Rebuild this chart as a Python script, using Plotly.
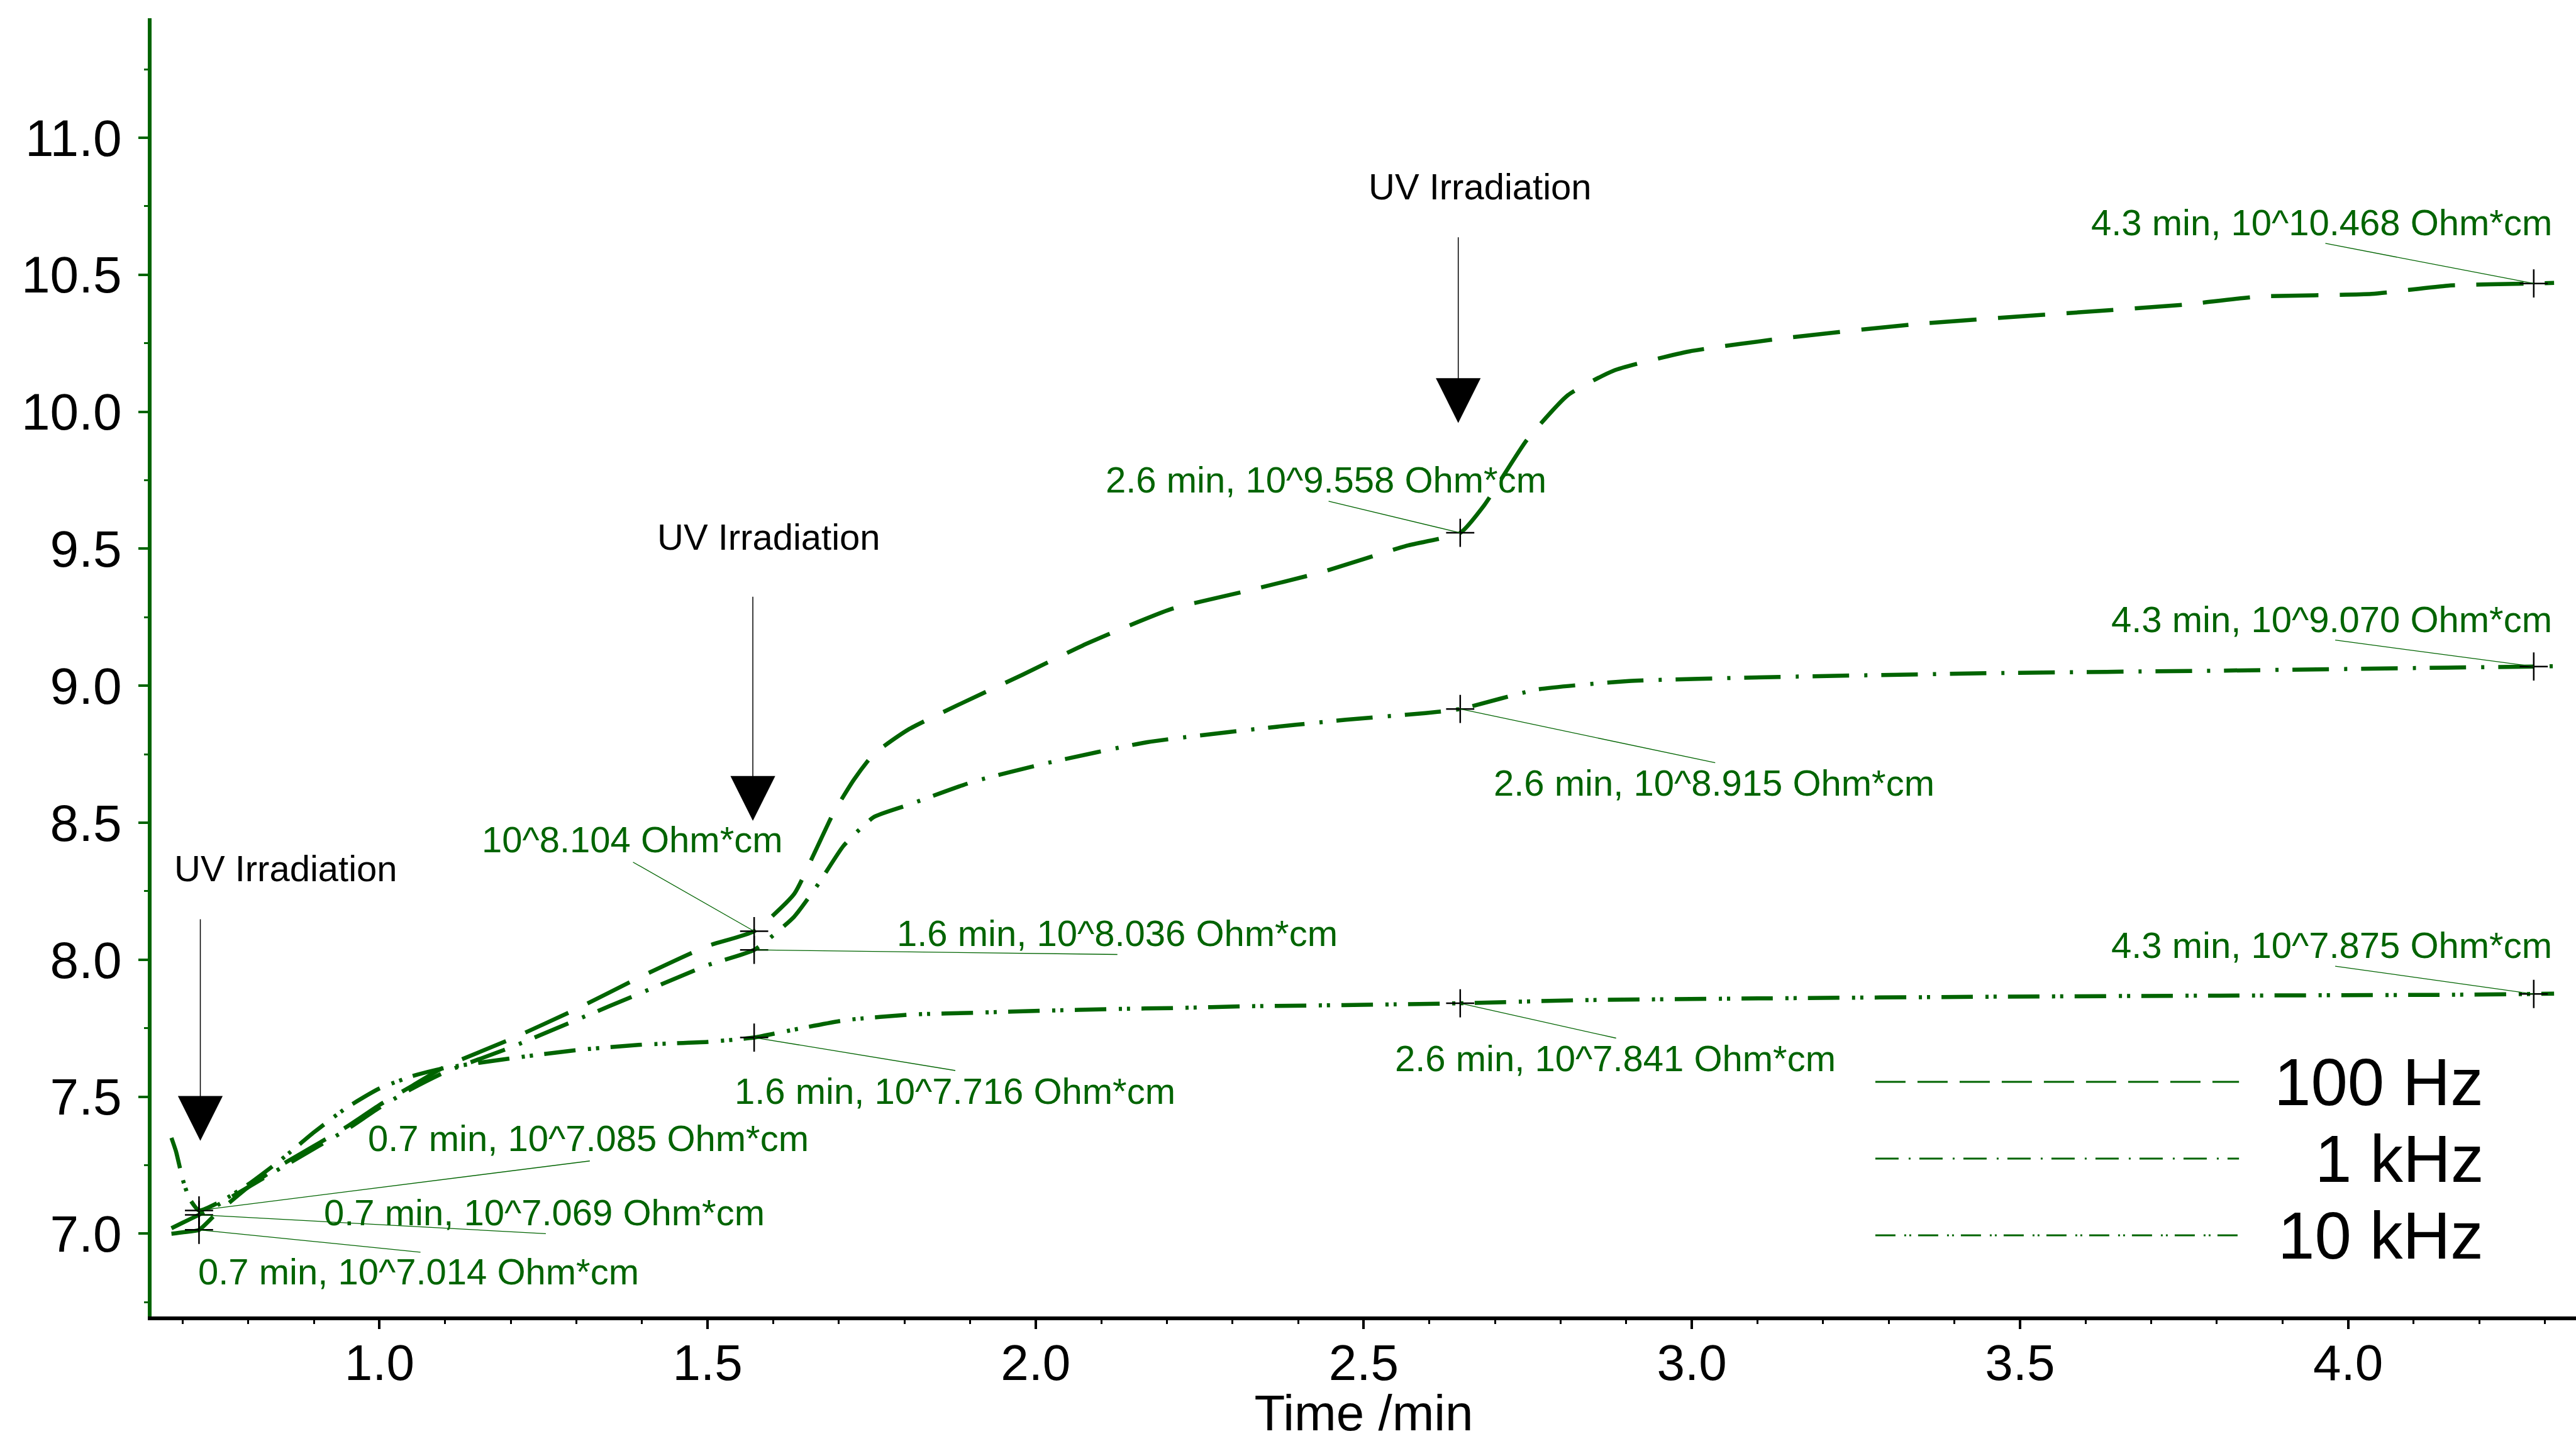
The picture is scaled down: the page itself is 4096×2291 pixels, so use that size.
import plotly.graph_objects as go

# ---------------- data ----------------
time_100hz = [0.683, 0.70, 0.725, 0.75, 0.80, 0.85, 0.90, 0.95, 1.00, 1.05, 1.10, 1.20, 1.30, 1.40, 1.50,
              1.571, 1.632, 1.662, 1.692, 1.723, 1.753, 1.806, 1.882, 1.98, 2.079, 2.207, 2.32, 2.435,
              2.564, 2.647, 2.684, 2.748, 2.811, 2.881, 2.996, 3.146, 3.343, 3.574, 3.748, 3.863,
              4.036, 4.152, 4.283, 4.314]
res_100hz = [7.000, 7.005, 7.014, 7.07, 7.17, 7.25, 7.32, 7.39, 7.47, 7.54, 7.61, 7.71, 7.82, 7.94, 8.05,
             8.104, 8.24, 8.385, 8.536, 8.657, 8.75, 8.84, 8.93, 9.04, 9.155, 9.28, 9.345, 9.414,
             9.51, 9.558, 9.66, 9.895, 10.06, 10.15, 10.22, 10.27, 10.32, 10.36, 10.39, 10.42,
             10.43, 10.46, 10.468, 10.47]

time_1khz = [0.683, 0.70, 0.725, 0.75, 0.80, 0.85, 0.90, 0.95, 1.00, 1.05, 1.10, 1.20, 1.30, 1.40, 1.50,
             1.571, 1.632, 1.669, 1.707, 1.753, 1.806, 1.904, 2.018, 2.17, 2.321, 2.473, 2.594, 2.647,
             2.764, 2.904, 3.112, 3.459, 3.805, 4.152, 4.283, 4.314]
res_1khz = [7.02, 7.04, 7.069, 7.10, 7.17, 7.24, 7.31, 7.38, 7.46, 7.53, 7.59, 7.68, 7.78, 7.88, 7.98,
            8.036, 8.157, 8.277, 8.415, 8.52, 8.565, 8.649, 8.718, 8.794, 8.838, 8.876, 8.90, 8.915,
            8.986, 9.017, 9.031, 9.046, 9.055, 9.066, 9.070, 9.071]

time_10khz = [0.683, 0.69, 0.70, 0.71, 0.725, 0.76, 0.80, 0.85, 0.90, 0.95, 1.00, 1.05, 1.10, 1.20, 1.30,
              1.40, 1.50, 1.571, 1.632, 1.712, 1.813, 1.914, 2.015, 2.116, 2.217, 2.318, 2.419, 2.52,
              2.647, 2.823, 3.112, 3.459, 3.805, 4.152, 4.283, 4.314]
res_10khz = [7.35, 7.30, 7.20, 7.13, 7.085, 7.12, 7.18, 7.27, 7.37, 7.46, 7.53, 7.575, 7.605, 7.64, 7.67,
             7.69, 7.70, 7.716, 7.745, 7.78, 7.80, 7.807, 7.814, 7.82, 7.824, 7.83, 7.833, 7.836,
             7.841, 7.852, 7.859, 7.865, 7.869, 7.872, 7.875, 7.876]

# cursor (marker) readings
marker_times = [0.725, 1.571, 2.647, 4.283]
marker_100hz = [7.014, 8.104, 9.558, 10.468]
marker_1khz = [7.069, 8.036, 8.915, 9.070]
marker_10khz = [7.085, 7.716, 7.841, 7.875]

series_names = ["100 Hz", "1 kHz", "10 kHz"]
uv_times = [0.727, 1.569, 2.644]          # UV irradiation events
x_ticks = [1.0, 1.5, 2.0, 2.5, 3.0, 3.5, 4.0]
y_ticks = [7.0, 7.5, 8.0, 8.5, 9.0, 9.5, 10.0, 10.5, 11.0]

# ---------------- styling / placement ----------------
GREEN = "#006400"
FONT = "Liberation Sans, Arial, sans-serif"
dashes = ["75px,34px", "58px,24px,5px,22px", "50px,20px,5px,8px,5px,18px"]
legend_dashes = ["48px,19px", "37px,16px,3px,14px", "32px,14px,3px,5px,3px,11px"]

# label placement: (text_x, text_y, leader_x, leader_y, prefix shown?)
label_place = {
    "100 Hz": [(1.060, 6.862, 1.064, 6.932, True), (1.385, 8.439, 1.385, 8.358, False),
               (2.443, 9.752, 2.445, 9.674, True), (3.960, 10.692, 3.964, 10.615, True)],
    "1 kHz": [(1.2515, 7.078, 1.255, 7.000, True), (2.124, 8.097, 2.126, 8.019, True),
              (3.034, 8.645, 3.037, 8.718, True), (3.975, 9.242, 3.979, 9.167, True)],
    "10 kHz": [(1.318, 7.348, 1.322, 7.266, True), (1.877, 7.522, 1.879, 7.595, True),
               (2.883, 7.641, 2.886, 7.713, True), (3.975, 8.053, 3.979, 7.977, True)],
}
# UV arrows: (tip_y, tail_y, text_x, text_y)
uv_place = [(7.339, 8.151, 0.857, 8.334), (8.507, 9.328, 1.593, 9.543), (9.959, 10.640, 2.677, 10.821)]

fig = go.Figure()

curves = [(time_100hz, res_100hz), (time_1khz, res_1khz), (time_10khz, res_10khz)]
for (t, r), name, dsh in zip(curves, series_names, dashes):
    fig.add_trace(go.Scatter(x=t, y=r, mode="lines", name=name, showlegend=False,
                             line=dict(color=GREEN, width=6.5, dash=dsh, shape="spline", smoothing=0.5)))

marker_sets = [marker_100hz, marker_1khz, marker_10khz]
for vals in marker_sets:
    fig.add_trace(go.Scatter(x=marker_times, y=vals, mode="markers", showlegend=False,
                             marker=dict(symbol="cross-thin", size=32,
                                         line=dict(color="black", width=2.5))))

annotations = []
for name, vals in zip(series_names, marker_sets):
    for t, v, (tx, ty, lx, ly, pref) in zip(marker_times, vals, label_place[name]):
        txt = (f"{t:.1f} min, " if pref else "") + f"10^{v:.3f} Ohm*cm"
        annotations.append(dict(x=t, y=v, xref="x", yref="y", axref="x", ayref="y", ax=lx, ay=ly,
                                text="", showarrow=True, arrowhead=0, arrowwidth=1.3,
                                arrowcolor=GREEN))
        annotations.append(dict(x=tx, y=ty, xref="x", yref="y", text=txt, showarrow=False,
                                xanchor="center", yanchor="middle",
                                font=dict(family=FONT, size=58, color=GREEN)))

for ut, (tip, tail, tx, ty) in zip(uv_times, uv_place):
    annotations.append(dict(x=ut, y=tip, xref="x", yref="y", axref="x", ayref="y", ax=ut, ay=tail,
                            text="", showarrow=True, arrowhead=2, arrowsize=9.5, arrowwidth=1.5,
                            arrowcolor="black"))
    annotations.append(dict(x=tx, y=ty, xref="x", yref="y", text="UV Irradiation", showarrow=False,
                            xanchor="center", yanchor="middle",
                            font=dict(family=FONT, size=58, color="black")))

# manual legend
legend_rows_y = [0.1807, 0.1216, 0.0625]
shapes = []
for name, dsh, ly in zip(series_names, legend_dashes, legend_rows_y):
    shapes.append(dict(type="line", xref="paper", yref="paper", x0=0.711, x1=0.861, y0=ly, y1=ly,
                       line=dict(color=GREEN, width=3, dash=dsh)))
    annotations.append(dict(x=0.9624, y=ly, xref="paper", yref="paper", text=name, showarrow=False,
                            xanchor="right", yanchor="middle",
                            font=dict(family=FONT, size=105, color="black")))

fig.update_layout(
    width=4096, height=2291,
    margin=dict(l=241, r=0, t=29, b=198, autoexpand=False),
    plot_bgcolor="white", paper_bgcolor="white",
    font=dict(family=FONT, color="black"),
    annotations=annotations, shapes=shapes,
    showlegend=False,
)
fig.update_xaxes(range=[0.6527, 4.3474], showgrid=False, zeroline=False, automargin=False,
                 showline=True, linecolor="black", linewidth=6,
                 ticks="outside", ticklen=14, tickwidth=4, tickcolor="black",
                 tickvals=x_ticks, ticktext=[f"{v:.1f}" for v in x_ticks],
                 tickfont=dict(family=FONT, size=80, color="black"), ticklabelstandoff=-15,
                 minor=dict(ticks="outside", ticklen=6, tickwidth=3, tickcolor="black",
                            dtick=0.1, tick0=0.0),
                 title=dict(text="Time /min", font=dict(family=FONT, size=80, color="black"),
                            standoff=25))
fig.update_yaxes(range=[6.698, 11.436], showgrid=False, zeroline=False, automargin=False,
                 showline=True, linecolor=GREEN, linewidth=6,
                 ticks="outside", ticklen=15, tickwidth=4, tickcolor=GREEN,
                 tickvals=y_ticks, ticktext=[f"{v:.1f}" for v in y_ticks],
                 tickfont=dict(family=FONT, size=82, color="black"), ticklabelstandoff=10,
                 minor=dict(ticks="outside", ticklen=6, tickwidth=3, tickcolor=GREEN,
                            dtick=0.25, tick0=0.0))

fig.write_html("out.html")
